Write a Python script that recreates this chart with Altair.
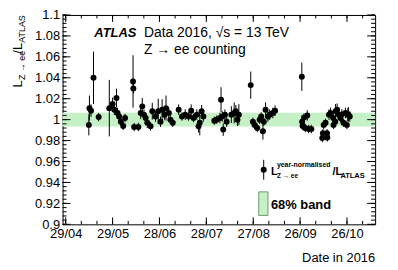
import altair as alt
import pandas as pd
import numpy as np

# ---- data ----
day_of_year = [134.8, 135.2, 136.2, 137.8, 141.1, 147.9, 150.0, 151.1, 152.5, 153.2,
               154.2, 155.3, 156.8, 158.0, 163.1, 163.3, 163.8, 166.5, 168.0, 169.0,
               170.1, 171.2, 172.2, 174.3, 175.4, 177.5, 179.2, 180.7, 181.7, 183.2,
               184.2, 186.0, 187.0, 188.5, 192.3, 194.4, 196.5, 198.6, 200.3, 201.8,
               203.9, 205.0, 205.8, 207.0, 208.1, 215.1, 216.6, 218.7, 219.4, 220.2,
               220.8, 221.9, 223.0, 226.0, 227.8, 228.9, 229.9, 230.8, 238.4, 239.8,
               240.9, 242.6, 244.1, 245.1, 246.2, 246.8, 247.9, 249.4, 250.5, 252.5,
               254.0, 271.1, 271.3, 271.6, 272.5, 273.3, 274.6, 275.5, 277.2, 284.2,
               284.6, 285.1, 286.3, 287.2, 287.4, 288.5, 289.5, 291.2, 291.4, 292.5,
               292.7, 293.7, 294.8, 295.8, 296.7, 297.7, 299.0, 299.9, 300.5, 300.9,
               301.8]
ratio = [0.995, 1.011, 1.0086, 1.040, 1.0025, 1.011, 1.015, 1.0095, 1.0206, 1.0064,
         1.003, 0.998, 0.994, 1.0016, 1.0365, 1.0298, 0.993, 0.993, 1.0064, 1.0127,
         1.0048, 1.0016, 0.997, 0.9937, 1.008, 1.003, 1.008, 0.998, 1.0095, 1.0048,
         1.011, 1.0064, 1.000, 0.997, 1.0095, 1.003, 1.0048, 1.003, 1.0086, 1.0016,
         1.0048, 0.9937, 0.997, 1.008, 1.003, 0.999, 1.000, 1.0016, 1.019, 1.003,
         0.9905, 1.0048, 0.998, 1.0048, 1.0064, 1.008, 1.000, 1.0048, 1.033, 0.998,
         0.995, 0.992, 1.000, 1.003, 0.989, 0.998, 1.0095, 1.003, 1.0048, 1.0064,
         1.0086, 1.041, 0.998, 0.994, 1.002, 0.992, 1.004, 0.991, 0.991, 0.9825,
         0.987, 0.995, 0.997, 0.987, 0.983, 1.0048, 1.0064, 1.0016, 0.995, 0.998,
         1.008, 1.0095, 1.0048, 1.0016, 1.005, 0.997, 1.0064, 0.995, 1.0048, 1.005,
         1.003]
error = [0.010, 0.012, 0.006, 0.025, 0.004, 0.027, 0.006, 0.005, 0.009, 0.005,
         0.004, 0.004, 0.004, 0.004, 0.025, 0.005, 0.004, 0.004, 0.006, 0.008,
         0.005, 0.004, 0.005, 0.004, 0.008, 0.005, 0.012, 0.005, 0.010, 0.005,
         0.012, 0.005, 0.004, 0.004, 0.005, 0.004, 0.005, 0.004, 0.006, 0.004,
         0.005, 0.006, 0.012, 0.006, 0.005, 0.004, 0.004, 0.005, 0.012, 0.005,
         0.006, 0.005, 0.005, 0.008, 0.010, 0.006, 0.006, 0.010, 0.013, 0.004,
         0.004, 0.004, 0.004, 0.004, 0.008, 0.004, 0.007, 0.005, 0.005, 0.005,
         0.005, 0.0135, 0.004, 0.004, 0.004, 0.004, 0.005, 0.004, 0.004, 0.004,
         0.004, 0.004, 0.004, 0.004, 0.004, 0.005, 0.005, 0.004, 0.004, 0.004,
         0.007, 0.006, 0.005, 0.004, 0.005, 0.004, 0.005, 0.004, 0.006, 0.007,
         0.005]

band_low = [0.9935]
band_high = [1.0065]

x_major = [120, 150, 180, 210, 240, 270, 300]          # 29/04 ... 26/10
x_minor = list(range(120, 311, 10))
y_major = [round(v, 3) for v in np.arange(0.90, 1.1001, 0.02)]
y_minor = [round(v, 3) for v in np.arange(0.90, 1.1001, 0.004)]

# ---- layout / style ----
W, H = 315, 211
FONT = "Liberation Sans"
BAND = "#c6f0c6"

df = pd.DataFrame({"doy": day_of_year, "ratio": ratio, "err": error})
df["lo"] = df["ratio"] - df["err"]
df["hi"] = df["ratio"] + df["err"]

xscale = alt.Scale(domain=[118, 318], nice=False, zero=False)
yscale = alt.Scale(domain=[0.9, 1.1], nice=False, zero=False)

xaxis = alt.Axis(values=x_major,
                 labelExpr="timeFormat(datetime(2016, 0, datum.value), '%d/%m')",
                 ticks=False, domain=False, grid=False, title=None,
                 labelFont=FONT, labelFontSize=13, labelColor="black",
                 labelPadding=3, labelFlush=False, labelOverlap=False)
yaxis = alt.Axis(values=y_major, format=".6~g",
                 ticks=False, domain=False, grid=False, title=None,
                 labelFont=FONT, labelFontSize=13, labelColor="black",
                 labelPadding=3, labelFlush=False, labelOverlap=False)

band = alt.Chart(pd.DataFrame({"lo": band_low, "hi": band_high})).mark_rect(
    color=BAND).encode(
    x=alt.value(0), x2=alt.value(W),
    y=alt.Y("lo:Q", scale=yscale, axis=yaxis), y2="hi:Q")

bars = alt.Chart(df).mark_rule(color="black", strokeWidth=1).encode(
    x=alt.X("doy:Q", scale=xscale, axis=xaxis),
    y=alt.Y("lo:Q", scale=yscale, axis=yaxis), y2="hi:Q")

points = alt.Chart(df).mark_circle(color="black", size=36, opacity=1).encode(
    x=alt.X("doy:Q", scale=xscale, axis=xaxis),
    y=alt.Y("ratio:Q", scale=yscale, axis=yaxis))


def yticks(values, x0, x1):
    return alt.Chart(pd.DataFrame({"v": values})).mark_rule(
        color="black", strokeWidth=1).encode(
        y=alt.Y("v:Q", scale=yscale, axis=yaxis),
        x=alt.value(x0), x2=alt.value(x1))


def xticks(values, y0, y1):
    return alt.Chart(pd.DataFrame({"v": values})).mark_rule(
        color="black", strokeWidth=1).encode(
        x=alt.X("v:Q", scale=xscale, axis=xaxis),
        y=alt.value(y0), y2=alt.value(y1))


one = pd.DataFrame({"a": [0]})


def label(txt, x, y, size, weight="normal", style="normal", align="left",
          angle=0, baseline="alphabetic"):
    return alt.Chart(one).mark_text(
        font=FONT, fontSize=size, fontWeight=weight, fontStyle=style,
        align=align, baseline=baseline, angle=angle, color="black").encode(
        x=alt.value(x), y=alt.value(y), text=alt.value(txt))


ticks = [
    yticks(y_minor, 0, 4), yticks(y_major, 0, 8),
    yticks(y_minor, W - 4, W), yticks(y_major, W - 8, W),
    xticks(x_minor, H, H - 3.5), xticks(x_major, H, H - 7),
    xticks(x_minor, 0, 3.5), xticks(x_major, 0, 7),
]

texts = [
    label("ATLAS", 32, 22.5, 13, weight="bold", style="italic"),
    label("Data 2016, √s = 13 TeV", 82, 22.5, 14),
    label("Z → ee counting", 82, 39, 14),
    label("Date in 2016", W, 249, 13, align="right"),
    # y title pieces (rotated)
    label("L", -41, 73, 13, angle=270),
    label("Z → ee", -37.5, 65.5, 9, angle=270),
    label("/L", -41, 39, 13, angle=270),
    label("ATLAS", -37.5, 28, 9, angle=270),
    # legend
    label("L", 210, 161, 11, weight="bold"),
    label("year-normalised", 216, 153, 7, weight="bold"),
    label("Z → ee", 216, 164.5, 6.5, weight="bold"),
    label("/L", 272, 161, 11, weight="bold"),
    label("ATLAS", 280, 164.5, 7.5, weight="bold"),
    label("68% band", 210, 195.5, 13, weight="bold"),
]

leg_bar = alt.Chart(one).mark_rule(color="black", strokeWidth=1).encode(
    x=alt.value(202.7), y=alt.value(146), y2=alt.value(166))
leg_pt = alt.Chart(one).mark_point(filled=True, shape="circle", size=36,
                                   color="black", opacity=1).encode(
    x=alt.value(202.7), y=alt.value(156))
leg_box = alt.Chart(one).mark_rect(color=BAND, stroke="#6a9a6a",
                                   strokeWidth=1).encode(
    x=alt.value(197.7), x2=alt.value(207), y=alt.value(178.3), y2=alt.value(202))

chart = alt.layer(band, *ticks, bars, points, leg_bar, leg_pt, leg_box, *texts).properties(
    width=W, height=H,
    autosize=alt.AutoSizeParams(type="none"),
    padding={"left": 55, "top": 6, "right": 15, "bottom": 45},
).configure_view(stroke="black", strokeWidth=1)

chart.save("out.html", embed_options={"renderer": "svg", "actions": False})
